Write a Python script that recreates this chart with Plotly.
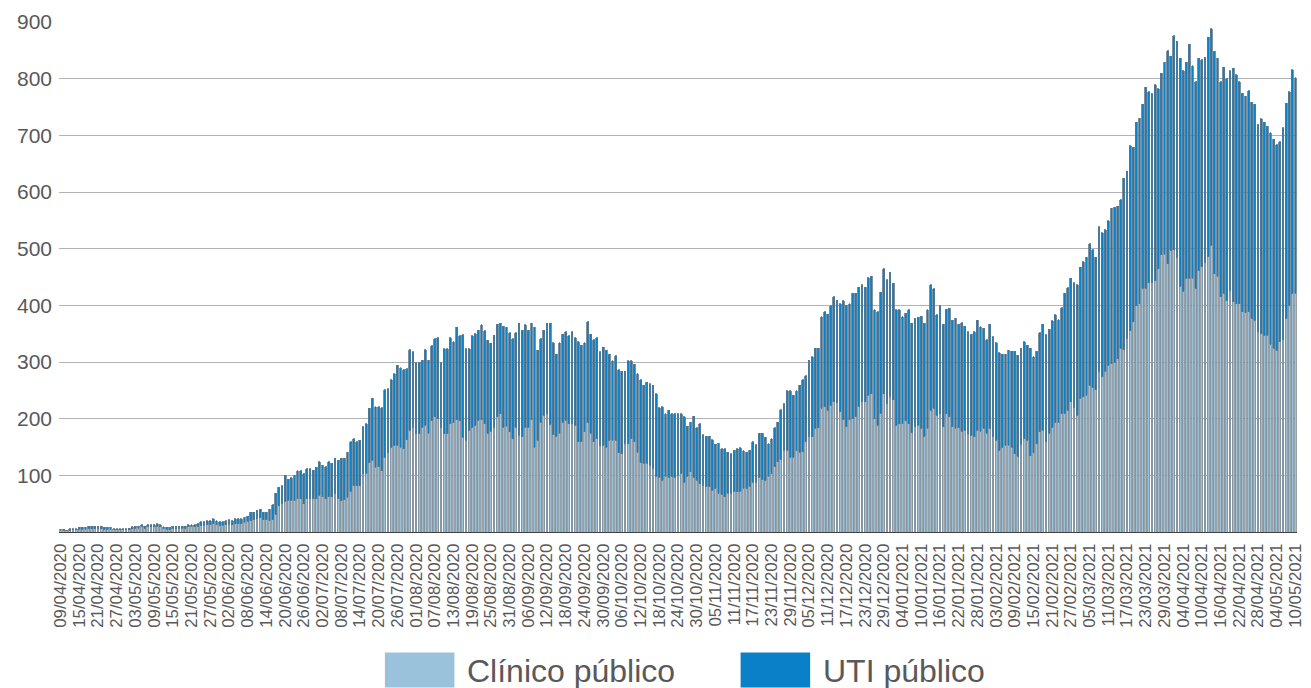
import pandas as pd
import plotly.graph_objects as go

# Daily categories 09/04/2020 .. 10/05/2021
dates = pd.date_range("2020-04-09", "2021-05-10", freq="D").strftime("%d/%m/%Y").tolist()

# Stack top (Clínico + UTI)
total = [
    5, 5, 3, 6, 6, 6,
    8, 8, 8, 10, 10, 10,
    10, 10, 8, 8, 8, 6,
    6, 6, 6, 6, 7, 9,
    10, 10, 13, 10, 13, 13,
    13, 15, 13, 9, 8, 8,
    10, 10, 10, 10, 10, 13,
    13, 13, 15, 18, 18, 20,
    20, 23, 20, 18, 18, 20,
    22, 20, 23, 23, 23, 26,
    28, 35, 35, 38, 40, 35,
    35, 40, 48, 68, 79, 82,
    100, 93, 96, 100, 108, 108,
    103, 112, 112, 109, 114, 124,
    118, 115, 124, 121, 130, 127,
    130, 130, 141, 159, 165, 159,
    162, 186, 191, 218, 236, 221,
    221, 219, 251, 253, 269, 279,
    294, 290, 286, 288, 322, 318,
    299, 300, 303, 322, 303, 329,
    341, 343, 299, 323, 323, 343,
    336, 361, 346, 348, 323, 323,
    346, 350, 356, 366, 355, 338,
    333, 347, 367, 368, 363, 361,
    352, 341, 352, 368, 356, 366,
    356, 368, 361, 321, 341, 356,
    368, 368, 334, 314, 334, 349,
    353, 346, 353, 343, 336, 330,
    334, 371, 349, 339, 343, 318,
    326, 321, 314, 302, 311, 286,
    284, 284, 302, 302, 296, 279,
    269, 259, 264, 262, 259, 244,
    219, 221, 209, 215, 209, 209,
    209, 209, 203, 187, 194, 204,
    184, 191, 172, 169, 169, 163,
    155, 157, 147, 147, 141, 138,
    144, 147, 149, 143, 141, 144,
    159, 154, 174, 174, 167, 156,
    165, 184, 194, 216, 226, 249,
    249, 241, 249, 259, 269, 276,
    303, 309, 324, 324, 380, 389,
    384, 399, 415, 409, 403, 408,
    400, 403, 421, 421, 432, 436,
    432, 449, 451, 392, 389, 423,
    465, 445, 458, 439, 392, 392,
    380, 386, 392, 368, 377, 379,
    381, 368, 392, 436, 429, 383,
    399, 367, 393, 395, 374, 377,
    367, 369, 363, 353, 349, 353,
    374, 362, 360, 339, 367, 345,
    334, 316, 314, 314, 321, 319,
    319, 312, 324, 336, 330, 324,
    309, 319, 352, 367, 348, 358,
    373, 383, 375, 396, 421, 431,
    448, 440, 436, 467, 477, 485,
    509, 498, 485, 539, 528, 533,
    549, 571, 573, 575, 586, 624,
    637, 682, 679, 723, 730, 755,
    785, 777, 773, 789, 782, 810,
    829, 849, 840, 876, 866, 836,
    814, 829, 861, 823, 795, 836,
    833, 838, 873, 888, 848, 836,
    795, 820, 800, 814, 818, 807,
    795, 774, 769, 779, 758, 755,
    720, 729, 723, 716, 705, 693,
    683, 689, 713, 757, 777, 816,
    802,
]

clinico = [
    3, 3, 2, 3, 4, 4,
    5, 5, 5, 6, 6, 6,
    6, 6, 5, 5, 5, 4,
    4, 4, 4, 4, 4, 6,
    7, 7, 9, 7, 9, 9,
    9, 10, 9, 6, 5, 5,
    6, 6, 7, 7, 7, 9,
    9, 9, 10, 12, 12, 13,
    13, 15, 13, 12, 12, 13,
    14, 13, 15, 15, 15, 17,
    19, 20, 22, 24, 25, 22,
    22, 20, 22, 31, 46, 51,
    54, 56, 56, 55, 59, 59,
    50, 59, 59, 59, 59, 65,
    62, 59, 62, 62, 68, 59,
    55, 57, 61, 72, 82, 82,
    82, 103, 104, 122, 127, 114,
    115, 108, 132, 140, 150, 153,
    153, 150, 147, 163, 180, 185,
    174, 173, 185, 188, 174, 196,
    203, 200, 185, 173, 174, 191,
    193, 198, 196, 167, 162, 180,
    185, 188, 197, 198, 191, 174,
    178, 185, 203, 209, 185, 187,
    177, 165, 185, 171, 168, 185,
    185, 198, 150, 162, 194, 206,
    209, 190, 172, 169, 174, 194,
    197, 191, 191, 188, 159, 159,
    177, 193, 174, 159, 165, 153,
    153, 150, 162, 162, 162, 140,
    138, 156, 156, 165, 159, 141,
    122, 121, 121, 118, 112, 98,
    97, 91, 98, 97, 98, 97,
    100, 104, 88, 98, 106, 97,
    91, 85, 82, 81, 80, 74,
    77, 68, 67, 62, 68, 68,
    71, 71, 72, 77, 77, 81,
    88, 88, 97, 92, 91, 98,
    103, 115, 124, 128, 144, 144,
    132, 132, 143, 141, 142, 159,
    169, 168, 183, 184, 218, 221,
    215, 224, 230, 228, 212, 198,
    186, 198, 200, 203, 222, 230,
    230, 241, 244, 200, 188, 210,
    244, 227, 240, 233, 188, 191,
    191, 196, 191, 175, 186, 188,
    183, 169, 183, 215, 218, 206,
    209, 186, 209, 203, 186, 183,
    184, 178, 180, 173, 171, 168,
    180, 178, 183, 174, 183, 168,
    162, 144, 150, 153, 153, 150,
    138, 134, 155, 165, 162, 135,
    140, 156, 177, 180, 159, 174,
    185, 194, 193, 209, 210, 215,
    230, 220, 206, 236, 239, 241,
    259, 255, 251, 284, 274, 284,
    294, 297, 300, 306, 324, 322,
    342, 355, 371, 399, 403, 430,
    430, 440, 440, 443, 465, 489,
    490, 473, 497, 498, 485, 434,
    425, 448, 448, 448, 430, 461,
    468, 476, 486, 506, 456, 451,
    415, 421, 408, 426, 406, 403,
    403, 389, 387, 389, 377, 374,
    353, 350, 347, 347, 331, 324,
    321, 336, 339, 377, 400, 421,
    421,
]

uti = [t - c for t, c in zip(total, clinico)]

series_names = ["Clínico público", "UTI público"]
y_ticks = [100, 200, 300, 400, 500, 600, 700, 800, 900]
x_ticks = dates[::6]

C_CLIN = "#9BC2DB"
C_UTI = "#0A80C8"
FONT = "Liberation Sans, Arial, sans-serif"
GRAY = "#595959"

fig = go.Figure()
fig.add_trace(go.Bar(x=dates, y=clinico, name=series_names[0],
                     marker=dict(color=C_CLIN, line=dict(color="#808a92", width=0.8))))
fig.add_trace(go.Bar(x=dates, y=uti, name=series_names[1],
                     marker=dict(color=C_UTI, line=dict(color="#577891", width=0.8))))

# custom legend (large swatches as in the reference)
W, H = 1246.0, 509.6
def px(x):
    return (x - 59) / W
def py(y):
    return (531.6 - y) / H

shapes = [
    dict(type="rect", xref="paper", yref="paper", x0=px(387), x1=px(457), y0=py(687), y1=py(652),
         fillcolor=C_CLIN, line=dict(width=0)),
    dict(type="rect", xref="paper", yref="paper", x0=px(745), x1=px(815), y0=py(687), y1=py(652),
         fillcolor=C_UTI, line=dict(width=0)),
]
annotations = [
    dict(xref="paper", yref="paper", x=px(468), y=py(670), xanchor="left", yanchor="middle",
         text=series_names[0], showarrow=False, font=dict(family=FONT, size=32, color=GRAY)),
    dict(xref="paper", yref="paper", x=px(826), y=py(670), xanchor="left", yanchor="middle",
         text=series_names[1], showarrow=False, font=dict(family=FONT, size=32, color=GRAY)),
]

fig.update_layout(
    width=1311, height=688,
    barmode="stack", bargap=0.4,
    showlegend=False,
    paper_bgcolor="white", plot_bgcolor="white",
    margin=dict(l=59, r=6, t=22, b=156),
    font=dict(family=FONT, color=GRAY),
    shapes=shapes, annotations=annotations,
    xaxis=dict(type="category", range=[-0.5, len(dates) - 0.5],
               tickmode="array", tickvals=x_ticks, ticktext=x_ticks,
               tickangle=-90, tickfont=dict(size=16.8, color=GRAY),
               showgrid=False, showline=True, linecolor="#404040", linewidth=1,
               ticks="", ticklabelstandoff=4),
    yaxis=dict(range=[0, 900], tickmode="array", tickvals=y_ticks,
               tickfont=dict(size=21, color=GRAY),
               showgrid=True, gridcolor="#b3b3b3", gridwidth=1.3,
               zeroline=False, showline=False, ticks="", ticklabelstandoff=6),
)

fig.write_html("out.html", config={"displayModeBar": False},
               post_script="document.body.style.margin='0';document.body.style.overflow='hidden';")
